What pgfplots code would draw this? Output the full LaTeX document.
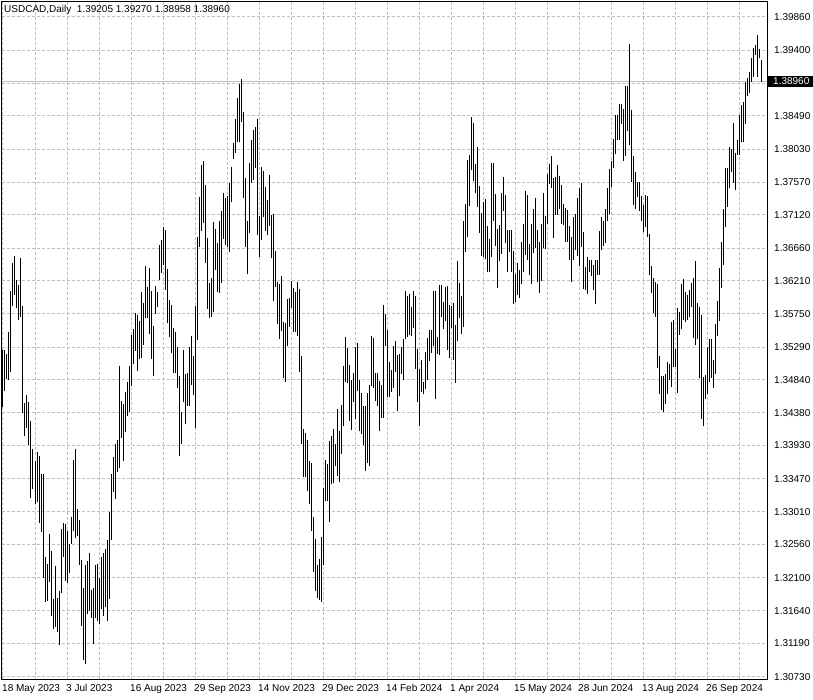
\documentclass[border=0pt]{standalone}
\usepackage{fontspec}
\setmainfont{Liberation Sans}
\usepackage{pgfplots}
\usepackage{pgfplotstable}
\pgfplotsset{compat=1.18}

% daily bars: index, high, low
\pgfplotstableread{
i h l
0 1.3525 1.3446
1 1.3525 1.3468
2 1.3520 1.3485
3 1.3550 1.3484
4 1.3607 1.3495
5 1.3646 1.3586
6 1.3655 1.3601
7 1.3622 1.3583
8 1.3615 1.3567
9 1.3652 1.3571
10 1.3586 1.3438
11 1.3452 1.3406
12 1.3463 1.3417
13 1.3453 1.3394
14 1.3427 1.3320
15 1.3388 1.3333
16 1.3372 1.3312
17 1.3384 1.3315
18 1.3378 1.3286
19 1.3354 1.3273
20 1.3354 1.3210
21 1.3239 1.3176
22 1.3229 1.3178
23 1.3271 1.3204
24 1.3247 1.3157
25 1.3180 1.3139
26 1.3226 1.3142
27 1.3182 1.3135
28 1.3192 1.3117
29 1.3277 1.3189
30 1.3286 1.3239
31 1.3284 1.3205
32 1.3275 1.3203
33 1.3257 1.3216
34 1.3294 1.3257
35 1.3373 1.3275
36 1.3388 1.3265
37 1.3305 1.3268
38 1.3290 1.3228
39 1.3234 1.3143
40 1.3196 1.3096
41 1.3228 1.3091
42 1.3233 1.3160
43 1.3244 1.3164
44 1.3193 1.3154
45 1.3196 1.3118
46 1.3228 1.3154
47 1.3229 1.3150
48 1.3210 1.3146
49 1.3239 1.3167
50 1.3244 1.3157
51 1.3250 1.3169
52 1.3262 1.3150
53 1.3301 1.3180
54 1.3354 1.3262
55 1.3377 1.3329
56 1.3395 1.3319
57 1.3401 1.3356
58 1.3503 1.3362
59 1.3455 1.3403
60 1.3450 1.3372
61 1.3467 1.3412
62 1.3481 1.3434
63 1.3503 1.3439
64 1.3546 1.3475
65 1.3554 1.3506
66 1.3576 1.3524
67 1.3574 1.3496
68 1.3565 1.3513
69 1.3605 1.3514
70 1.3590 1.3532
71 1.3641 1.3569
72 1.3612 1.3569
73 1.3639 1.3547
74 1.3607 1.3513
75 1.3558 1.3489
76 1.3614 1.3575
77 1.3605 1.3585
78 1.3670 1.3622
79 1.3677 1.3632
80 1.3695 1.3643
81 1.3691 1.3608
82 1.3637 1.3562
83 1.3594 1.3543
84 1.3587 1.3521
85 1.3556 1.3493
86 1.3550 1.3493
87 1.3529 1.3473
88 1.3489 1.3378
89 1.3439 1.3395
90 1.3525 1.3453
91 1.3492 1.3423
92 1.3493 1.3448
93 1.3529 1.3448
94 1.3545 1.3477
95 1.3517 1.3463
96 1.3586 1.3417
97 1.3682 1.3539
98 1.3737 1.3668
99 1.3781 1.3690
100 1.3787 1.3701
101 1.3754 1.3646
102 1.3680 1.3582
103 1.3618 1.3569
104 1.3625 1.3571
105 1.3702 1.3578
106 1.3693 1.3636
107 1.3673 1.3605
108 1.3704 1.3604
109 1.3718 1.3618
110 1.3742 1.3679
111 1.3735 1.3670
112 1.3738 1.3668
113 1.3756 1.3661
114 1.3778 1.3730
115 1.3812 1.3789
116 1.3845 1.3798
117 1.3874 1.3813
118 1.3893 1.3813
119 1.3900 1.3841
120 1.3855 1.3735
121 1.3763 1.3668
122 1.3704 1.3630
123 1.3784 1.3687
124 1.3816 1.3756
125 1.3830 1.3760
126 1.3834 1.3777
127 1.3845 1.3684
128 1.3711 1.3654
129 1.3778 1.3677
130 1.3773 1.3709
131 1.3751 1.3690
132 1.3733 1.3684
133 1.3767 1.3697
134 1.3712 1.3652
135 1.3713 1.3593
136 1.3662 1.3612
137 1.3619 1.3561
138 1.3616 1.3540
139 1.3627 1.3551
140 1.3564 1.3486
141 1.3562 1.3481
142 1.3596 1.3531
143 1.3597 1.3557
144 1.3621 1.3583
145 1.3611 1.3550
146 1.3605 1.3550
147 1.3619 1.3545
148 1.3610 1.3495
149 1.3517 1.3395
150 1.3416 1.3349
151 1.3410 1.3349
152 1.3401 1.3330
153 1.3372 1.3312
154 1.3369 1.3275
155 1.3294 1.3218
156 1.3264 1.3192
157 1.3228 1.3182
158 1.3236 1.3179
159 1.3266 1.3176
160 1.3334 1.3228
161 1.3373 1.3316
162 1.3367 1.3316
163 1.3399 1.3287
164 1.3406 1.3340
165 1.3416 1.3341
166 1.3395 1.3365
167 1.3443 1.3351
168 1.3413 1.3342
169 1.3449 1.3381
170 1.3503 1.3420
171 1.3543 1.3481
172 1.3528 1.3479
173 1.3504 1.3427
174 1.3484 1.3414
175 1.3493 1.3453
176 1.3529 1.3430
177 1.3535 1.3468
178 1.3484 1.3413
179 1.3466 1.3409
180 1.3448 1.3394
181 1.3448 1.3358
182 1.3466 1.3369
183 1.3477 1.3365
184 1.3545 1.3475
185 1.3542 1.3473
186 1.3493 1.3455
187 1.3493 1.3448
188 1.3482 1.3413
189 1.3477 1.3431
190 1.3587 1.3431
191 1.3575 1.3531
192 1.3553 1.3460
193 1.3509 1.3460
194 1.3497 1.3467
195 1.3531 1.3473
196 1.3538 1.3495
197 1.3518 1.3441
198 1.3520 1.3461
199 1.3529 1.3492
200 1.3540 1.3484
201 1.3607 1.3540
202 1.3600 1.3543
203 1.3603 1.3546
204 1.3585 1.3545
205 1.3607 1.3556
206 1.3600 1.3499
207 1.3526 1.3453
208 1.3499 1.3420
209 1.3511 1.3467
210 1.3481 1.3464
211 1.3522 1.3471
212 1.3542 1.3484
213 1.3553 1.3510
214 1.3553 1.3521
215 1.3607 1.3531
216 1.3607 1.3457
217 1.3543 1.3520
218 1.3615 1.3518
219 1.3615 1.3571
220 1.3592 1.3554
221 1.3612 1.3565
222 1.3614 1.3525
223 1.3587 1.3514
224 1.3586 1.3556
225 1.3590 1.3511
226 1.3560 1.3479
227 1.3648 1.3538
228 1.3618 1.3569
229 1.3600 1.3547
230 1.3704 1.3557
231 1.3727 1.3661
232 1.3788 1.3682
233 1.3795 1.3724
234 1.3848 1.3774
235 1.3839 1.3759
236 1.3783 1.3742
237 1.3806 1.3723
238 1.3752 1.3687
239 1.3715 1.3655
240 1.3730 1.3654
241 1.3734 1.3651
242 1.3697 1.3633
243 1.3679 1.3633
244 1.3784 1.3654
245 1.3784 1.3704
246 1.3741 1.3669
247 1.3693 1.3611
248 1.3698 1.3648
249 1.3742 1.3658
250 1.3765 1.3718
251 1.3740 1.3673
252 1.3691 1.3633
253 1.3691 1.3661
254 1.3691 1.3633
255 1.3662 1.3589
256 1.3630 1.3592
257 1.3646 1.3601
258 1.3636 1.3597
259 1.3675 1.3616
260 1.3700 1.3633
261 1.3745 1.3657
262 1.3740 1.3650
263 1.3672 1.3629
264 1.3700 1.3616
265 1.3720 1.3659
266 1.3735 1.3666
267 1.3691 1.3619
268 1.3675 1.3604
269 1.3700 1.3621
270 1.3742 1.3666
271 1.3711 1.3665
272 1.3769 1.3700
273 1.3783 1.3755
274 1.3794 1.3749
275 1.3763 1.3680
276 1.3765 1.3712
277 1.3781 1.3712
278 1.3766 1.3720
279 1.3754 1.3700
280 1.3727 1.3698
281 1.3722 1.3675
282 1.3719 1.3675
283 1.3697 1.3650
284 1.3682 1.3619
285 1.3709 1.3650
286 1.3713 1.3664
287 1.3735 1.3655
288 1.3749 1.3641
289 1.3756 1.3668
290 1.3688 1.3610
291 1.3640 1.3608
292 1.3654 1.3603
293 1.3650 1.3633
294 1.3650 1.3628
295 1.3643 1.3608
296 1.3650 1.3589
297 1.3650 1.3629
298 1.3690 1.3629
299 1.3709 1.3664
300 1.3704 1.3669
301 1.3720 1.3673
302 1.3749 1.3704
303 1.3776 1.3713
304 1.3787 1.3751
305 1.3817 1.3777
306 1.3850 1.3796
307 1.3850 1.3816
308 1.3866 1.3816
309 1.3866 1.3838
310 1.3859 1.3787
311 1.3891 1.3794
312 1.3891 1.3828
313 1.3949 1.3809
314 1.3857 1.3758
315 1.3794 1.3726
316 1.3771 1.3720
317 1.3758 1.3737
318 1.3758 1.3718
319 1.3738 1.3704
320 1.3726 1.3688
321 1.3740 1.3695
322 1.3738 1.3682
323 1.3686 1.3629
324 1.3641 1.3604
325 1.3625 1.3576
326 1.3619 1.3571
327 1.3616 1.3500
328 1.3517 1.3464
329 1.3489 1.3442
330 1.3489 1.3439
331 1.3492 1.3450
332 1.3509 1.3464
333 1.3506 1.3484
334 1.3564 1.3474
335 1.3567 1.3502
336 1.3526 1.3502
337 1.3583 1.3466
338 1.3578 1.3546
339 1.3616 1.3554
340 1.3623 1.3567
341 1.3605 1.3564
342 1.3601 1.3567
343 1.3608 1.3571
344 1.3618 1.3585
345 1.3625 1.3542
346 1.3648 1.3532
347 1.3590 1.3540
348 1.3585 1.3486
349 1.3574 1.3430
350 1.3488 1.3420
351 1.3491 1.3457
352 1.3529 1.3464
353 1.3540 1.3481
354 1.3540 1.3486
355 1.3511 1.3473
356 1.3561 1.3492
357 1.3593 1.3545
358 1.3639 1.3565
359 1.3675 1.3611
360 1.3720 1.3643
361 1.3777 1.3695
362 1.3777 1.3723
363 1.3806 1.3749
364 1.3803 1.3771
365 1.3839 1.3756
366 1.3798 1.3747
367 1.3816 1.3795
368 1.3850 1.3795
369 1.3864 1.3813
370 1.3868 1.3813
371 1.3896 1.3838
372 1.3902 1.3877
373 1.3910 1.3881
374 1.3929 1.3896
375 1.3943 1.3903
376 1.3947 1.3933
377 1.3961 1.3903
378 1.3942 1.3929
379 1.3927 1.3896
}\bars

\begin{document}
\begin{tikzpicture}[font=\fontsize{10}{12}\selectfont]
\useasboundingbox (0,0) rectangle (813pt,700pt);
\begin{axis}[
    at={(2pt,20pt)}, anchor=south west,
    scale only axis, width=765pt, height=678pt,
    xmin=-0.5, xmax=382,
    ymin=1.30684, ymax=1.40067,
    axis line style={black, line width=1pt},
    xtick={0,32,...,352},
    minor xtick={16,48,...,368},
    xticklabels={18 May 2023,3 Jul 2023,16 Aug 2023,29 Sep 2023,14 Nov 2023,29 Dec 2023,14 Feb 2024,1 Apr 2024,15 May 2024,28 Jun 2024,13 Aug 2024,26 Sep 2024},
    ytick={1.30730,1.31190,1.31640,1.32100,1.32560,1.33010,1.33470,1.33930,1.34380,1.34840,1.35290,1.35750,1.36210,1.36660,1.37120,1.37570,1.38030,1.38490,1.38945,1.39400,1.39860},
    yticklabels={1.30730,1.31190,1.31640,1.32100,1.32560,1.33010,1.33470,1.33930,1.34380,1.34840,1.35290,1.35750,1.36210,1.36660,1.37120,1.37570,1.38030,1.38490,{},1.39400,1.39860},
    yticklabel pos=right,
    major tick length=0pt, minor tick length=0pt,
    grid=both,
    major grid style={gray!50, line width=1pt, dash pattern=on 3pt off 2pt},
    minor grid style={gray!50, line width=1pt, dash pattern=on 3pt off 2pt},
    xticklabel style={anchor=north west, inner sep=0pt, xshift=-1pt, yshift=-4pt},
    yticklabel style={anchor=west, inner sep=0pt, xshift=7pt},
  ]
  % current price line
  \addplot[gray!50, line width=1pt] coordinates {(-0.5,1.38960) (382,1.38960)};
  % high-low bars
  \addplot[draw=none, mark=none,
    error bars/.cd, y dir=plus, y explicit, error mark=none,
    error bar style={draw=black, line width=1pt, solid}]
    table[x=i, y=l, y error plus expr=\thisrow{h}-\thisrow{l}] {\bars};
\end{axis}
\node[anchor=west, inner sep=0pt] at (4pt,690pt) {USDCAD,Daily\ \ 1.39205 1.39270 1.38958 1.38960};
\fill[black] (768pt,613pt) rectangle (813pt,624pt);
\node[anchor=west, inner sep=0pt, text=white] at (773pt,618.5pt) {1.38960};
\end{tikzpicture}
\end{document}
